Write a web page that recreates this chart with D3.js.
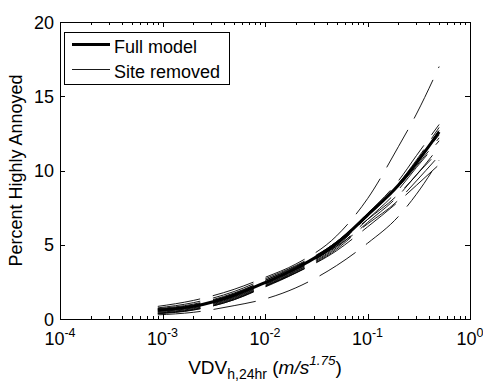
<!DOCTYPE html>
<html>
<head>
<meta charset="utf-8">
<script src="https://cdn.jsdelivr.net/npm/d3@7"></script>
<style>
  body { margin: 0; background: #fff; }
  svg { display: block; }
  text { font-family: "Liberation Sans", Arial, sans-serif; fill: #000; }
</style>
</head>
<body>
<svg id="chart" width="483" height="383"></svg>
<script>
// VDV sample points (m/s^1.75) at which each curve is tabulated
const vdv = [0.0009, 0.002, 0.005, 0.01, 0.02, 0.05, 0.1, 0.2, 0.3, 0.5];

// Percent highly annoyed, full model
const fullModel = [0.6, 0.85, 1.6, 2.45, 3.4, 5.1, 7.0, 9.0, 10.5, 12.6];

// Percent highly annoyed, model refitted with one site removed
const siteA = [0.85, 1.25, 2.0, 2.8, 3.7, 5.6, 8.1, 11.6, 13.8, 17.0];
const siteB = [0.28, 0.45, 0.9, 1.35, 2.1, 3.6, 5.1, 6.9, 8.4, 10.7];
const siteC = [0.55, 0.8, 1.5, 2.35, 3.3, 5.0, 6.9, 9.1, 10.7, 12.9];
const siteD = [0.5, 0.75, 1.45, 2.3, 3.25, 5.0, 7.0, 9.1, 10.6, 12.7];
const siteE = [0.45, 0.7, 1.4, 2.25, 3.2, 4.9, 6.9, 9.0, 10.5, 12.4];
const siteF = [0.65, 0.95, 1.7, 2.6, 3.5, 5.2, 7.0, 8.9, 10.3, 12.2];
const siteG = [0.4, 0.65, 1.35, 2.2, 3.15, 4.8, 6.7, 8.7, 10.2, 12.0];
const siteH = [0.7, 1.0, 1.75, 2.6, 3.55, 5.1, 6.7, 8.4, 9.7, 11.6];
const siteI = [0.35, 0.6, 1.3, 2.15, 3.1, 4.7, 6.5, 8.3, 9.7, 11.3];
const siteJ = [0.6, 0.9, 1.65, 2.5, 3.45, 4.9, 6.4, 8.0, 9.3, 11.0];
const siteK = [0.38, 0.62, 1.3, 2.2, 3.1, 4.6, 6.2, 7.9, 9.0, 10.4];
const siteL = [0.75, 1.1, 1.85, 2.7, 3.6, 5.2, 7.1, 9.3, 11.0, 13.1];
const siteRemoved = [siteA, siteB, siteC, siteD, siteE, siteF, siteG, siteH, siteI, siteJ, siteK, siteL];

// Axis ticks and legend text
const xTickExponents = [-4, -3, -2, -1, 0];
const yTicks = [0, 5, 10, 15, 20];
const legendLabels = ["Full model", "Site removed"];

const svg = d3.select("#chart");
const plotL = 60, plotR = 470, plotT = 22, plotB = 319;

const x = d3.scaleLog().domain([1e-4, 1]).range([plotL, plotR]);
const y = d3.scaleLinear().domain([0, 20]).range([plotB, plotT]);

const majorX = xTickExponents.map(e => Math.pow(10, e));
const minorX = x.ticks().filter(t => !majorX.some(m => Math.abs(m - t) / m < 1e-9));

function bare(sel) {
  sel.select(".domain").remove();
  sel.selectAll(".tick line").attr("stroke", "#000").attr("shape-rendering", "crispEdges");
}

// bottom and top ticks (pointing inward)
svg.append("g").attr("transform", `translate(0,${plotB})`)
  .call(d3.axisBottom(x).tickValues(majorX).tickSize(-5).tickFormat(""))
  .call(bare);
svg.append("g").attr("transform", `translate(0,${plotB})`)
  .call(d3.axisBottom(x).tickValues(minorX).tickSize(-3).tickFormat(""))
  .call(bare);
svg.append("g").attr("transform", `translate(0,${plotT})`)
  .call(d3.axisTop(x).tickValues(majorX).tickSize(-5).tickFormat(""))
  .call(bare);
svg.append("g").attr("transform", `translate(0,${plotT})`)
  .call(d3.axisTop(x).tickValues(minorX).tickSize(-3).tickFormat(""))
  .call(bare);

// left and right ticks
const yAxisL = svg.append("g").attr("transform", `translate(${plotL},0)`)
  .call(d3.axisLeft(y).tickValues(yTicks).tickSize(-5).tickPadding(6).tickFormat(d3.format("d")))
  .call(bare);
yAxisL.attr("font-family", null).attr("font-size", null);
yAxisL.selectAll("text").attr("font-size", 18).attr("dy", "0.34em");
svg.append("g").attr("transform", `translate(${plotR},0)`)
  .call(d3.axisRight(y).tickValues(yTicks).tickSize(-5).tickFormat(""))
  .call(bare);

// x tick labels with superscript exponents
const xl = svg.append("g").selectAll("text").data(xTickExponents).join("text")
  .attr("x", d => x(Math.pow(10, d)))
  .attr("y", plotB + 26)
  .attr("text-anchor", "middle")
  .attr("font-size", 18);
xl.append("tspan").text("10");
xl.append("tspan").attr("dy", -8).attr("font-size", 12.5).text(d => String(d));

// curves
const line = d3.line()
  .x((d, i) => x(vdv[i]))
  .y(d => y(d))
  .curve(d3.curveMonotoneX);

svg.append("g").selectAll("path").data(siteRemoved).join("path")
  .attr("d", line)
  .attr("fill", "none")
  .attr("stroke", "#000")
  .attr("stroke-width", 0.9)
  .attr("stroke-dasharray", "43,13");

svg.append("path")
  .attr("d", line(fullModel))
  .attr("fill", "none")
  .attr("stroke", "#000")
  .attr("stroke-width", 3);

// plot box
svg.append("rect")
  .attr("x", plotL + 0.5).attr("y", plotT + 0.5)
  .attr("width", plotR - plotL).attr("height", plotB - plotT)
  .attr("fill", "none").attr("stroke", "#000").attr("stroke-width", 1);

// legend
const lg = svg.append("g");
lg.append("rect").attr("x", 64.5).attr("y", 32.5).attr("width", 165).attr("height", 52)
  .attr("fill", "#fff").attr("stroke", "#000").attr("stroke-width", 1);
const rows = [
  { label: legendLabels[0], w: 3, dash: null, yy: 44.5 },
  { label: legendLabels[1], w: 0.9, dash: "43,13", yy: 69.5 }
];
rows.forEach(r => {
  lg.append("line").attr("x1", 72).attr("x2", 110).attr("y1", r.yy).attr("y2", r.yy)
    .attr("stroke", "#000").attr("stroke-width", r.w).attr("stroke-dasharray", r.dash);
  lg.append("text").attr("x", 114).attr("y", r.yy + 8.5).attr("font-size", 18).text(r.label);
});

// axis titles
svg.append("text")
  .attr("transform", `translate(22,${(plotT + plotB) / 2}) rotate(-90)`)
  .attr("text-anchor", "middle").attr("font-size", 18)
  .text("Percent Highly Annoyed");

const xt = svg.append("text").attr("x", (plotL + plotR) / 2).attr("y", 374)
  .attr("text-anchor", "middle").attr("font-size", 19);
xt.append("tspan").text("VDV");
xt.append("tspan").attr("dy", 5).attr("font-size", 14).text("h,24hr");
xt.append("tspan").attr("dy", -5).text(" (");
xt.append("tspan").attr("font-style", "italic").text("m/s");
xt.append("tspan").attr("dy", -9).attr("font-size", 13.5).attr("font-style", "italic").text("1.75");
xt.append("tspan").attr("dy", 9).text(")");
</script>
</body>
</html>
